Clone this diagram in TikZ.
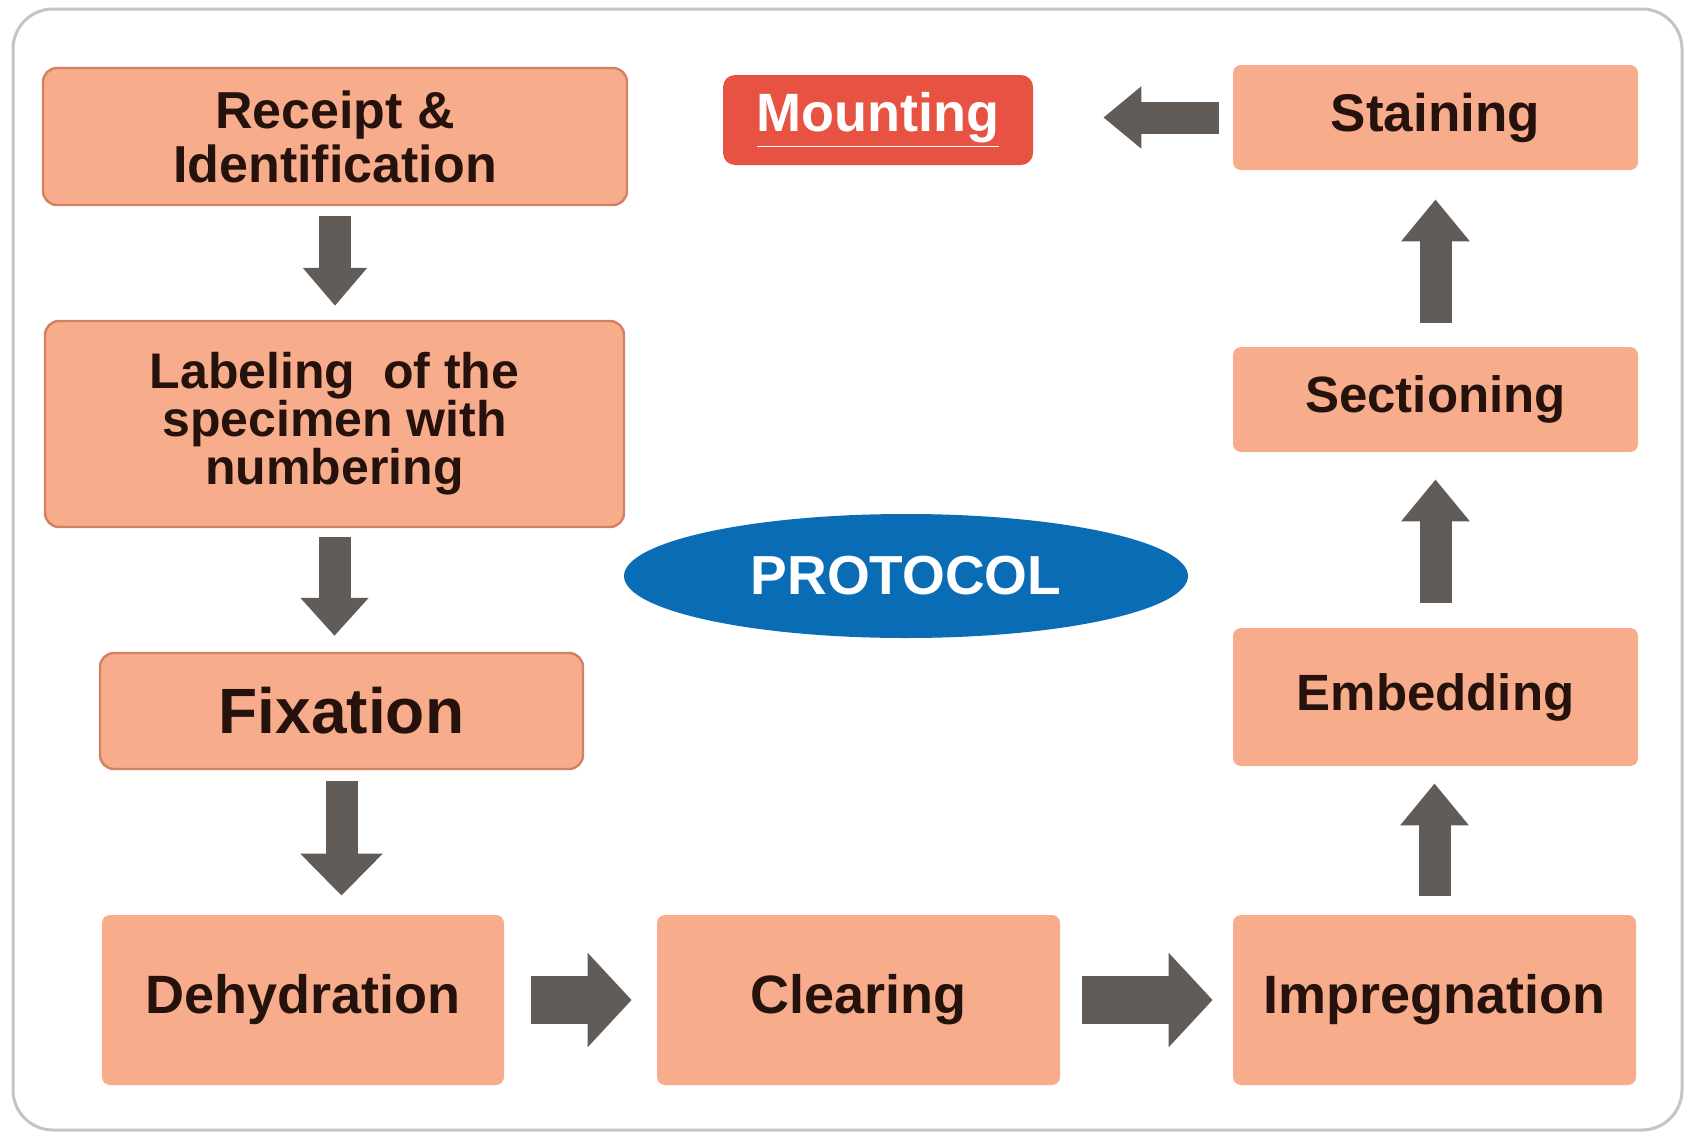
\documentclass[tikz,border=0pt]{standalone}
\usepackage{fontspec}
\setmainfont{Liberation Sans}
\usetikzlibrary{arrows.meta,shapes.geometric}
\definecolor{boxfill}{RGB}{247,172,140}
\definecolor{boxline}{RGB}{212,128,98}
\definecolor{txtcol}{RGB}{38,18,12}
\definecolor{arrcol}{RGB}{98,92,88}
\definecolor{mountred}{RGB}{232,82,66}
\definecolor{protoblue}{RGB}{10,108,180}
\definecolor{framecol}{RGB}{196,196,196}
\tikzset{
  leftbox/.style={draw=boxline, line width=1.2pt, fill=boxfill, rounded corners=7pt, align=center,
    text=txtcol, font=\fontsize{26}{27}\selectfont\bfseries, inner sep=0pt},
  rightbox/.style={draw=none, fill=boxfill, rounded corners=4pt, align=center,
    text=txtcol, font=\fontsize{27}{28}\selectfont\bfseries, inner sep=0pt},
  blockv/.style={draw=arrcol, line width=16pt, -{Triangle[width=31pt,length=19pt]}},
  blockup/.style={draw=arrcol, line width=16pt, -{Triangle[width=33pt,length=21pt]}},
  blockh/.style={draw=arrcol, line width=24pt, -{Triangle[width=46pt,length=22pt]}},
  blockl/.style={draw=arrcol, line width=16pt, -{Triangle[width=30pt,length=19pt]}},
}
\begin{document}
\begin{tikzpicture}[x=0.5pt,y=-0.5pt]
\useasboundingbox (0,0) rectangle (1688,1135);
\draw[framecol, line width=1.5pt, fill=white, rounded corners=20pt] (13,9) rectangle (1682,1130);

% left column
\node[leftbox, minimum width=292pt, minimum height=68.5pt] (rec) at (335,136.5) {Receipt \&\\Identification};
\node[leftbox, minimum width=289.5pt, minimum height=103pt, font=\fontsize{25}{24}\selectfont\bfseries] (lab) at (334.5,424) {Labeling\ \ of the\\specimen with\\numbering};
\node[leftbox, minimum width=241.5pt, minimum height=58pt, font=\fontsize{32}{34}\selectfont\bfseries] (fix) at (341.5,711) {Fixation};

% bottom row
\node[rightbox, minimum width=201pt, minimum height=85pt] (deh) at (303,1000) {Dehydration};
\node[rightbox, minimum width=201.5pt, minimum height=85pt] (clr) at (858.5,1000) {Clearing};
\node[rightbox, minimum width=201.5pt, minimum height=85pt] (imp) at (1434.5,1000) {Impregnation};

% right column
\node[rightbox, minimum width=202.5pt, minimum height=69pt, font=\fontsize{25.5}{27}\selectfont\bfseries] (emb) at (1435.5,697) {Embedding};
\node[rightbox, minimum width=202.5pt, minimum height=52.5pt, font=\fontsize{25.5}{27}\selectfont\bfseries] (sec) at (1435.5,399.5) {Sectioning};
\node[rightbox, minimum width=202.5pt, minimum height=52.5pt, font=\fontsize{26.5}{27}\selectfont\bfseries] (sta) at (1435.5,117.5) {Staining};

% mounting
\node[draw=none, fill=mountred, rounded corners=6pt, minimum width=155pt, minimum height=45pt, inner sep=0pt,
  text=white, font=\fontsize{27}{28}\selectfont\bfseries] (mnt) at (878,120) {\underline{Mounting}};

% protocol
\node[ellipse, fill=protoblue, draw=none, minimum width=282pt, minimum height=62pt, inner sep=0pt,
  text=white, font=\fontsize{27.5}{28}\selectfont\bfseries] (proto) at (906,576) {PROTOCOL};

% arrows
\draw[blockv] ([yshift=-5pt]rec.south) -- ([yshift=7pt]rec.south |- lab.north);
\draw[blockv, -{Triangle[width=33pt,length=19pt]}] ([yshift=-4.5pt]lab.south) -- ([yshift=8pt]lab.south |- fix.north);
\draw[blockv, -{Triangle[width=40pt,length=21pt]}] ([yshift=-5.5pt]fix.south) -- ([yshift=9.5pt]fix.south |- deh.north);
\draw[blockh] ([xshift=13.5pt]deh.east) -- ([xshift=-12.5pt]clr.west);
\draw[blockh] ([xshift=11pt]clr.east) -- ([xshift=-10pt]imp.west);
\draw[blockup] ([yshift=9.5pt]imp.north) -- ([yshift=-8.5pt]imp.north |- emb.south);
\draw[blockup] ([yshift=12.5pt]emb.north) -- ([yshift=-13.5pt]sec.south);
\draw[blockup] ([yshift=12pt]sec.north) -- ([yshift=-14.5pt]sta.south);
\draw[blockl] ([xshift=-7pt]sta.west) -- ([xshift=35pt]sta.west -| mnt.east);
\end{tikzpicture}
\end{document}
